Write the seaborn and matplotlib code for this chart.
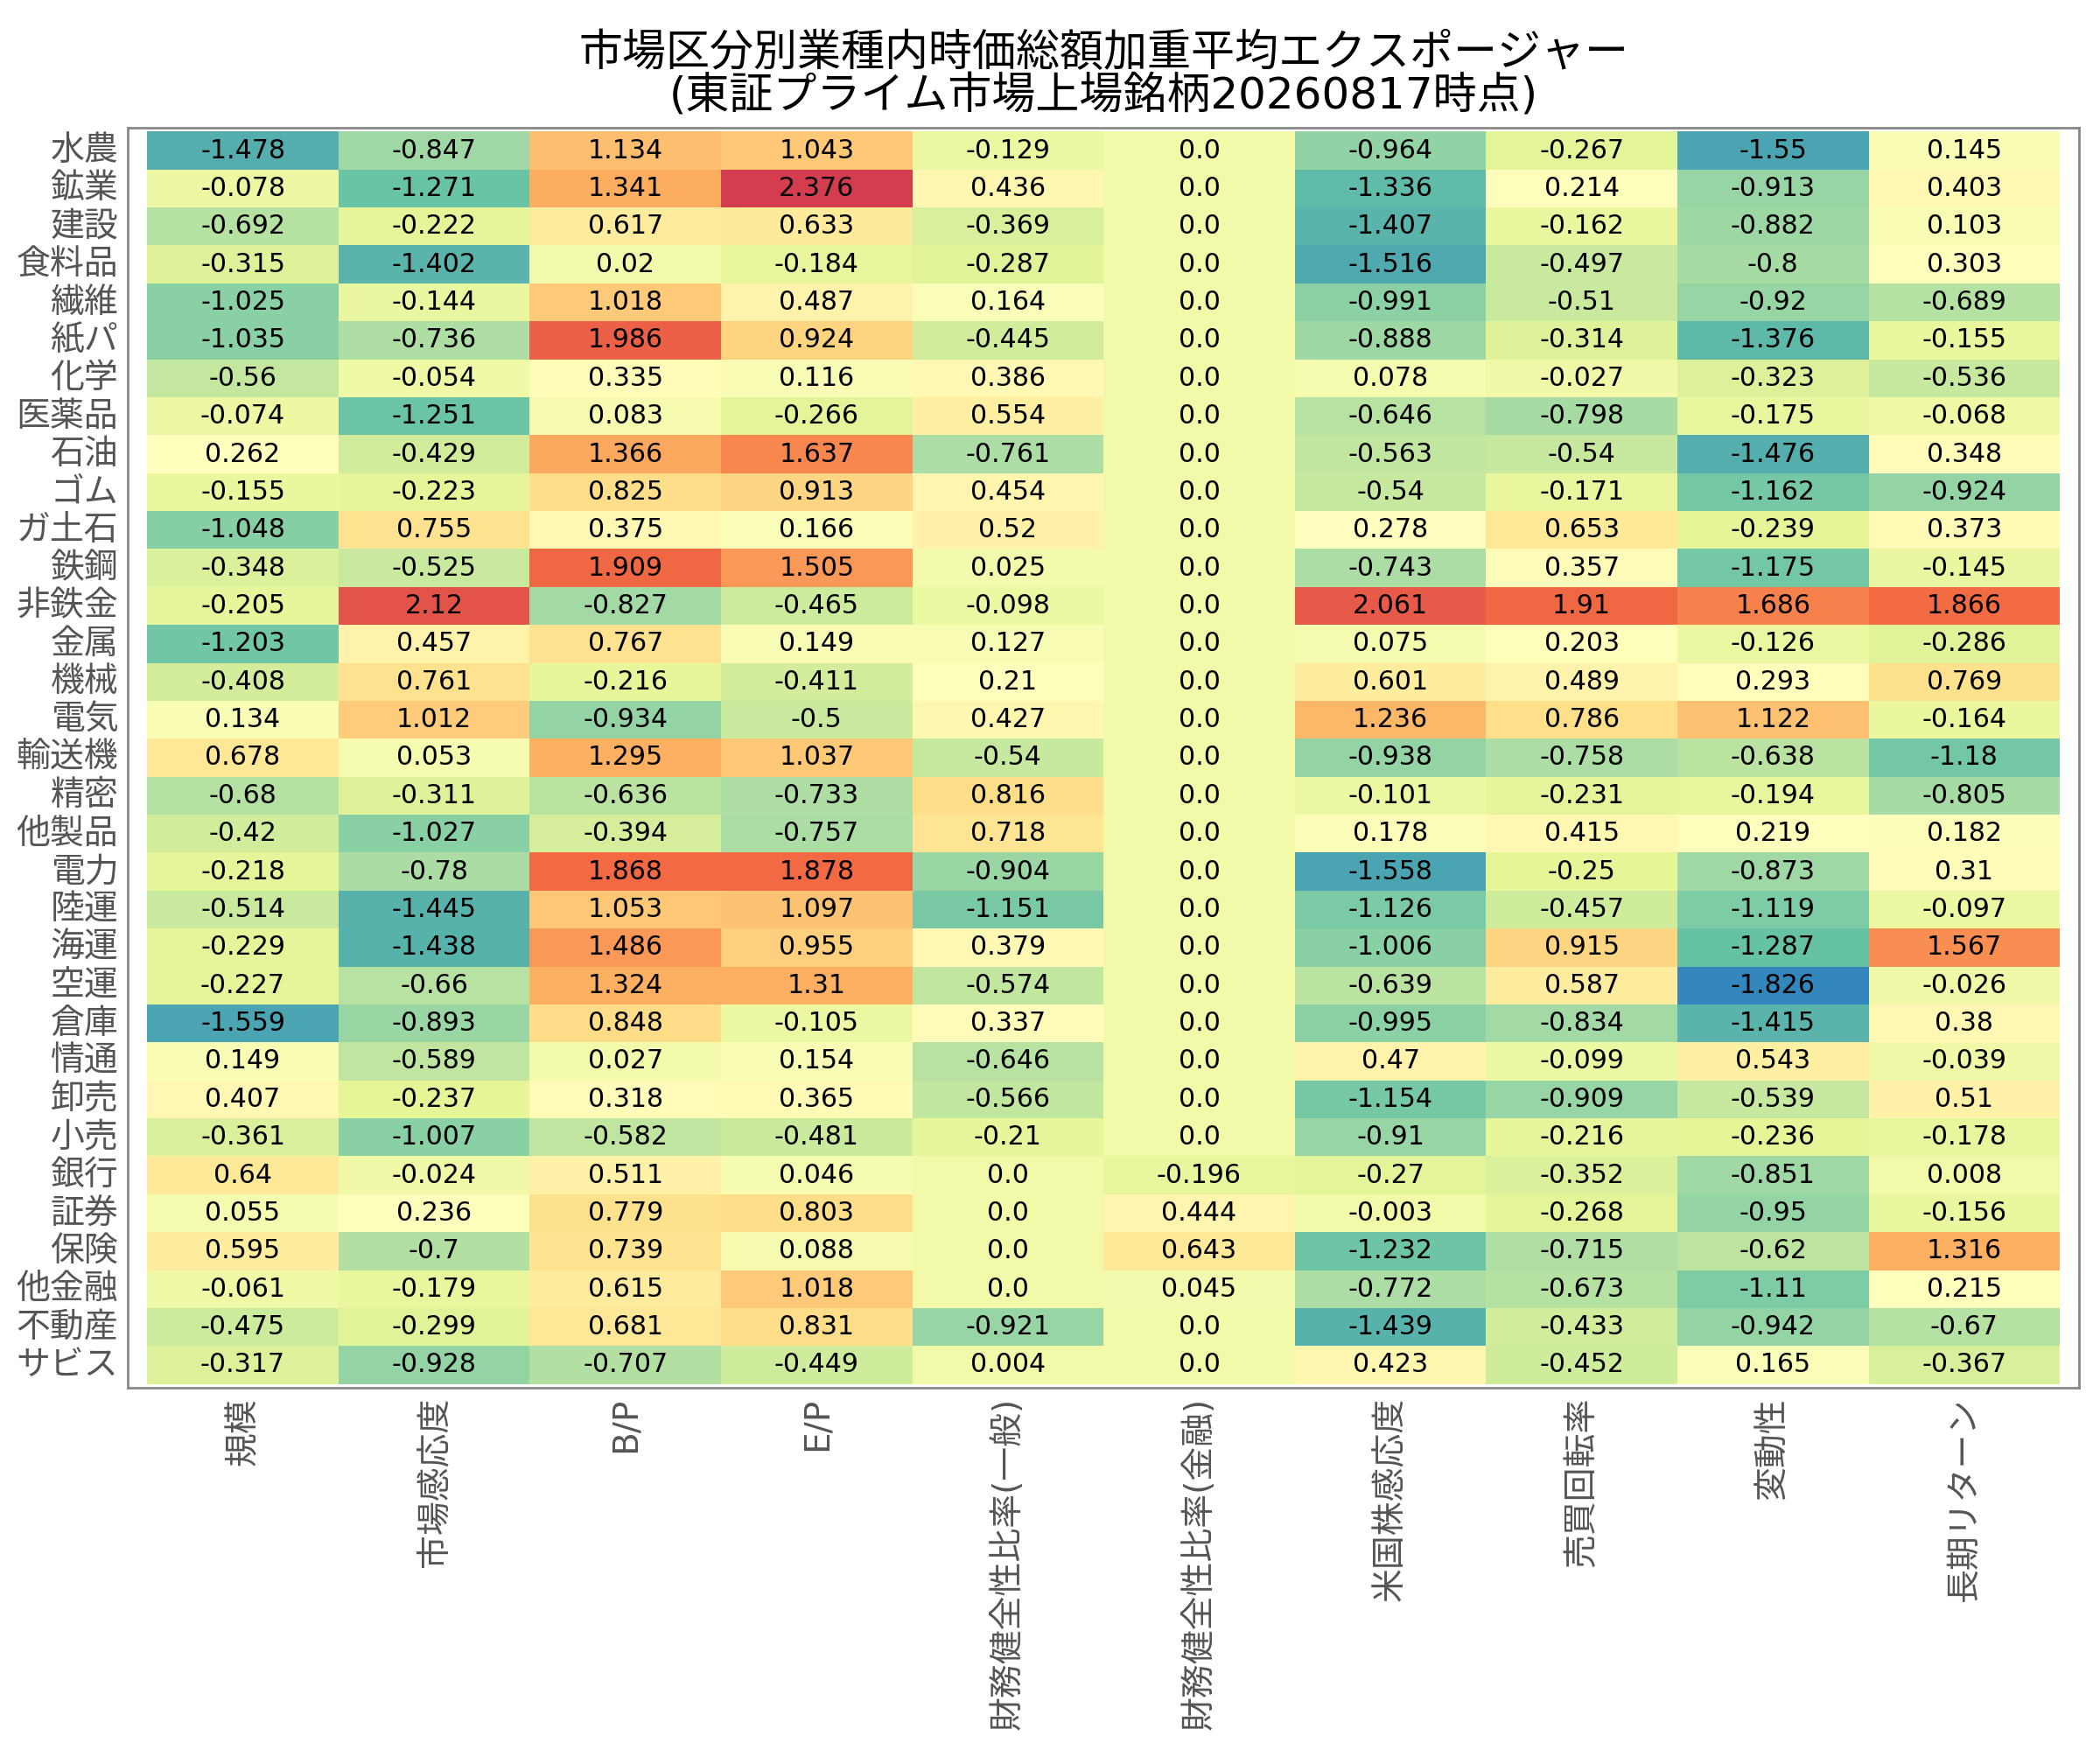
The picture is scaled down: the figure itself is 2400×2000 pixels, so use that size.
import matplotlib
matplotlib.use("Agg")
import matplotlib.pyplot as plt
import numpy as np
import pandas as pd
import seaborn as sns
from matplotlib.colors import ListedColormap

# Data
industries = ['水農', '鉱業', '建設', '食料品', '繊維', '紙パ', '化学', '医薬品', '石油', 'ゴム',
              'ガ土石', '鉄鋼', '非鉄金', '金属', '機械', '電気', '輸送機', '精密', '他製品', '電力',
              '陸運', '海運', '空運', '倉庫', '情通', '卸売', '小売', '銀行', '証券', '保険',
              '他金融', '不動産', 'サビス']
factors = ['規模', '市場感応度', 'B/P', 'E/P', '財務健全性比率(一般)', '財務健全性比率(金融)',
           '米国株感応度', '売買回転率', '変動性', '長期リターン']

size = [-1.478, -0.078, -0.692, -0.315, -1.025, -1.035, -0.56, -0.074, 0.262, -0.155,
        -1.048, -0.348, -0.205, -1.203, -0.408, 0.134, 0.678, -0.68, -0.42, -0.218,
        -0.514, -0.229, -0.227, -1.559, 0.149, 0.407, -0.361, 0.64, 0.055, 0.595,
        -0.061, -0.475, -0.317]
market_beta = [-0.847, -1.271, -0.222, -1.402, -0.144, -0.736, -0.054, -1.251, -0.429, -0.223,
               0.755, -0.525, 2.12, 0.457, 0.761, 1.012, 0.053, -0.311, -1.027, -0.78,
               -1.445, -1.438, -0.66, -0.893, -0.589, -0.237, -1.007, -0.024, 0.236, -0.7,
               -0.179, -0.299, -0.928]
bp = [1.134, 1.341, 0.617, 0.02, 1.018, 1.986, 0.335, 0.083, 1.366, 0.825,
      0.375, 1.909, -0.827, 0.767, -0.216, -0.934, 1.295, -0.636, -0.394, 1.868,
      1.053, 1.486, 1.324, 0.848, 0.027, 0.318, -0.582, 0.511, 0.779, 0.739,
      0.615, 0.681, -0.707]
ep = [1.043, 2.376, 0.633, -0.184, 0.487, 0.924, 0.116, -0.266, 1.637, 0.913,
      0.166, 1.505, -0.465, 0.149, -0.411, -0.5, 1.037, -0.733, -0.757, 1.878,
      1.097, 0.955, 1.31, -0.105, 0.154, 0.365, -0.481, 0.046, 0.803, 0.088,
      1.018, 0.831, -0.449]
fin_general = [-0.129, 0.436, -0.369, -0.287, 0.164, -0.445, 0.386, 0.554, -0.761, 0.454,
               0.52, 0.025, -0.098, 0.127, 0.21, 0.427, -0.54, 0.816, 0.718, -0.904,
               -1.151, 0.379, -0.574, 0.337, -0.646, -0.566, -0.21, 0.0, 0.0, 0.0,
               0.0, -0.921, 0.004]
fin_financial = [0.0, 0.0, 0.0, 0.0, 0.0, 0.0, 0.0, 0.0, 0.0, 0.0,
                 0.0, 0.0, 0.0, 0.0, 0.0, 0.0, 0.0, 0.0, 0.0, 0.0,
                 0.0, 0.0, 0.0, 0.0, 0.0, 0.0, 0.0, -0.196, 0.444, 0.643,
                 0.045, 0.0, 0.0]
us_beta = [-0.964, -1.336, -1.407, -1.516, -0.991, -0.888, 0.078, -0.646, -0.563, -0.54,
           0.278, -0.743, 2.061, 0.075, 0.601, 1.236, -0.938, -0.101, 0.178, -1.558,
           -1.126, -1.006, -0.639, -0.995, 0.47, -1.154, -0.91, -0.27, -0.003, -1.232,
           -0.772, -1.439, 0.423]
turnover = [-0.267, 0.214, -0.162, -0.497, -0.51, -0.314, -0.027, -0.798, -0.54, -0.171,
            0.653, 0.357, 1.91, 0.203, 0.489, 0.786, -0.758, -0.231, 0.415, -0.25,
            -0.457, 0.915, 0.587, -0.834, -0.099, -0.909, -0.216, -0.352, -0.268, -0.715,
            -0.673, -0.433, -0.452]
volatility = [-1.55, -0.913, -0.882, -0.8, -0.92, -1.376, -0.323, -0.175, -1.476, -1.162,
              -0.239, -1.175, 1.686, -0.126, 0.293, 1.122, -0.638, -0.194, 0.219, -0.873,
              -1.119, -1.287, -1.826, -1.415, 0.543, -0.539, -0.236, -0.851, -0.95, -0.62,
              -1.11, -0.942, 0.165]
long_return = [0.145, 0.403, 0.103, 0.303, -0.689, -0.155, -0.536, -0.068, 0.348, -0.924,
               0.373, -0.145, 1.866, -0.286, 0.769, -0.164, -1.18, -0.805, 0.182, 0.31,
               -0.097, 1.567, -0.026, 0.38, -0.039, 0.51, -0.178, 0.008, -0.156, 1.316,
               0.215, -0.67, -0.367]

df = pd.DataFrame(
    np.column_stack([size, market_beta, bp, ep, fin_general, fin_financial,
                     us_beta, turnover, volatility, long_return]),
    index=industries, columns=factors)
labels = df.map(lambda v: str(v))

# Spectral_r without the darkest ends
cmap = ListedColormap(plt.get_cmap('Spectral_r')(np.linspace(0.1, 0.9, 256)))

# wide Latin digits first, CJK glyphs from Noto
plt.rcParams['font.family'] = ['DejaVu Sans', 'Noto Sans CJK JP']

fig, ax = plt.subplots(figsize=(12, 10), dpi=200)
fig.subplots_adjust(left=0.061, right=0.990, top=0.927, bottom=0.207)

sns.heatmap(df, annot=labels, fmt='', cmap=cmap, cbar=False, ax=ax,
            annot_kws={'fontsize': 10.8, 'color': 'black'})

ax.set_xlim(-0.1, len(factors) + 0.1)
ax.set_ylim(len(industries) + 0.1, -0.1)
for s in ax.spines.values():
    s.set_visible(True)
    s.set_color('#888888')
    s.set_linewidth(1.0)

ax.tick_params(axis='both', length=0, labelsize=14, labelcolor='#555555', pad=4)
ax.set_xticklabels(factors, rotation=90)
ax.set_yticklabels(industries, rotation=0)
ax.set_xlabel('')
ax.set_ylabel('')
ax.set_title('市場区分別業種内時価総額加重平均エクスポージャー\n(東証プライム市場上場銘柄20260817時点)',
             fontsize=18, pad=8, linespacing=1.0)

fig.savefig('out.png')
